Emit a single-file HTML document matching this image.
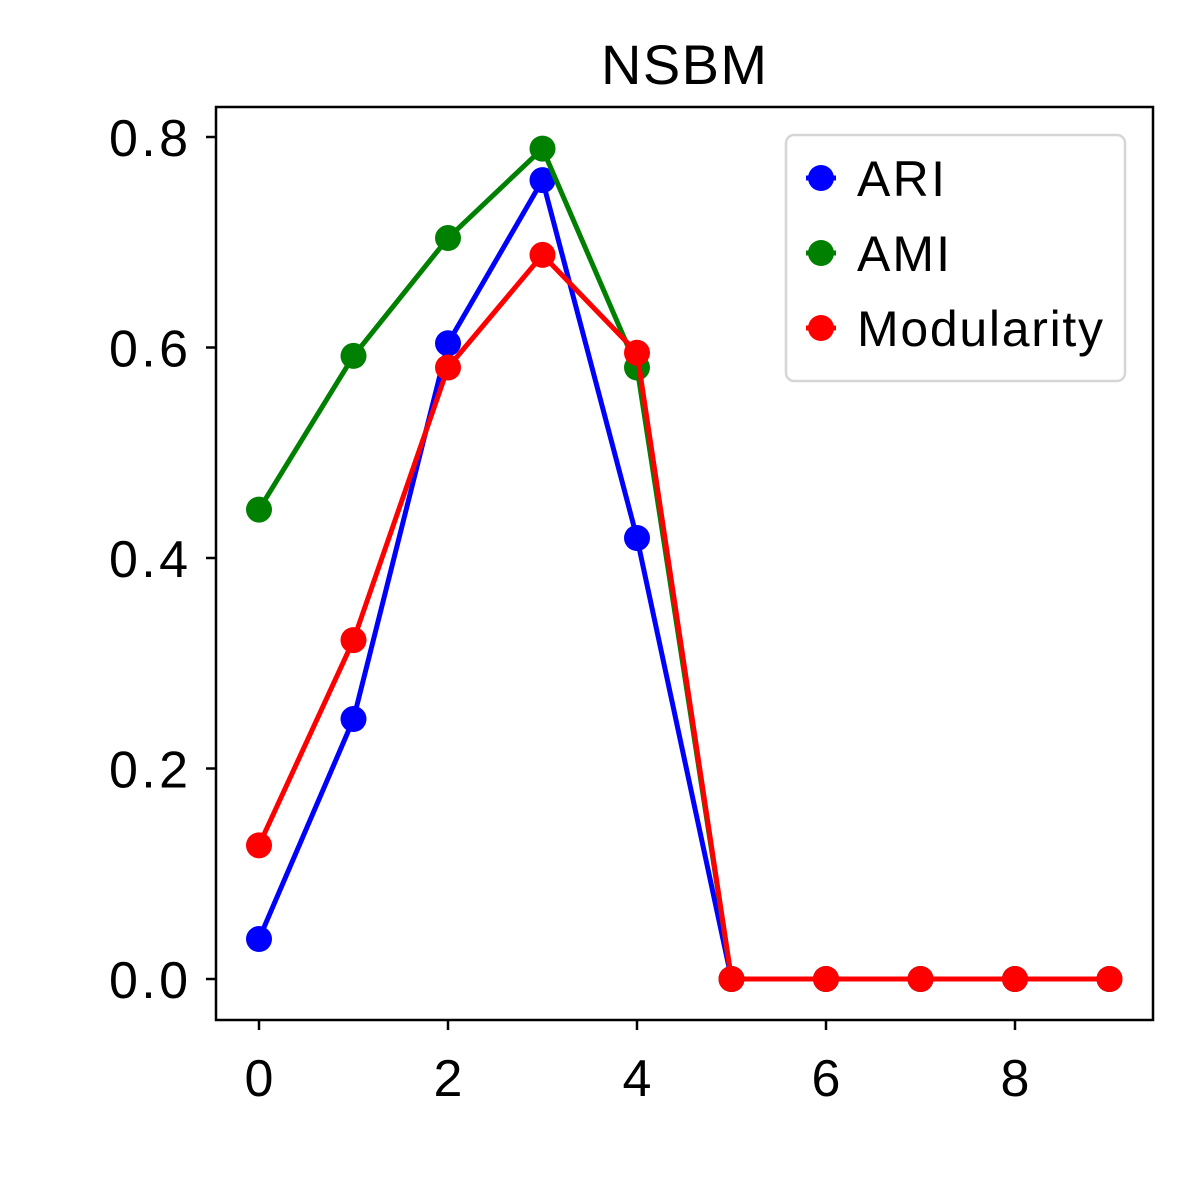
<!DOCTYPE html>
<html><head><meta charset="utf-8"><style>body{margin:0;background:#fff}svg{display:block}text{font-family:"Liberation Sans",sans-serif}</style></head>
<body>
<svg id="chart" width="1200" height="1200">
<rect width="1200" height="1200" fill="#fff"/>
<text x="684" y="84" font-size="56" text-anchor="middle" textLength="166">NSBM</text>
<g id="axes"></g>
<g id="plot"></g>
<g id="legend"></g>
</svg>
<script>
const categories=[0,1,2,3,4,5,6,7,8,9];
const ariValues=[0.038,0.247,0.604,0.759,0.419,0,0,0,0,0];
const amiValues=[0.446,0.592,0.704,0.789,0.581,0,0,0,0,0];
const modValues=[0.127,0.322,0.581,0.688,0.595,0,0,0,0,0];
const xTicks=[0,2,4,6,8];
const yTicks=[0.0,0.2,0.4,0.6,0.8];
const seriesNames=["ARI","AMI","Modularity"];
const NS="http://www.w3.org/2000/svg";
const L=216,R=1153,T=107,B=1020;
function xs(v){return 259+v*94.5;}
function ys(v){return 979-v*1052.5;}
function mk(tag,attrs,parent){const e=document.createElementNS(NS,tag);for(const k in attrs)e.setAttribute(k,attrs[k]);parent.appendChild(e);return e;}
const axes=document.getElementById('axes');
const frame=mk('rect',{x:L,y:T,width:R-L,height:B-T,fill:'none',stroke:'#000','stroke-width':2.5},axes);


xTicks.forEach(t=>{
 const l=mk('line',{x1:xs(t),x2:xs(t),y1:B,y2:B+10,stroke:'#000','stroke-width':2.5},axes);
 
 
 const tx=mk('text',{x:xs(t),y:B+76,'font-size':52,'text-anchor':'middle'},axes);tx.textContent=t;
 
 
});
yTicks.forEach(t=>{
 const l=mk('line',{x1:L-10,x2:L,y1:ys(t),y2:ys(t),stroke:'#000','stroke-width':2.5},axes);
 
 
 const tx=mk('text',{x:L-28,y:ys(t)+19,'font-size':52,'text-anchor':'end',textLength:79},axes);tx.textContent=t.toFixed(1);
 
 
});
const plot=document.getElementById('plot');
const series=[[ariValues,'#0000ff','ari'],[amiValues,'#008000','ami'],[modValues,'#ff0000','modularity']];
series.forEach(([vals,c,n])=>{
 const g=mk('g',{},plot);
 
 
 const pl=mk('polyline',{points:vals.map((v,i)=>xs(categories[i])+','+ys(v)).join(' '),fill:'none',stroke:c,'stroke-width':5,'stroke-linejoin':'round'},g);
 
 
 vals.forEach((v,i)=>{
  const p=mk('circle',{cx:xs(categories[i]),cy:ys(v),r:13,fill:c},g);
  
  
 });
});
const lg=document.getElementById('legend');


mk('rect',{x:786,y:135,width:339,height:246,rx:8,fill:'#fff','fill-opacity':0.8,stroke:'#d6d6d6','stroke-width':2.5},lg);
const lens=[88,93,246];
series.forEach(([vals,c,n],i)=>{
 const y=178+i*75;
 const e=mk('g',{},lg);
 
 
 mk('line',{x1:806,x2:836,y1:y,y2:y,stroke:c,'stroke-width':5},e);
 mk('circle',{cx:821,cy:y,r:13,fill:c},e);
 const t=mk('text',{x:857,y:y+18,'font-size':50,textLength:lens[i]},e);t.textContent=seriesNames[i];
});
</script>
</body></html>
